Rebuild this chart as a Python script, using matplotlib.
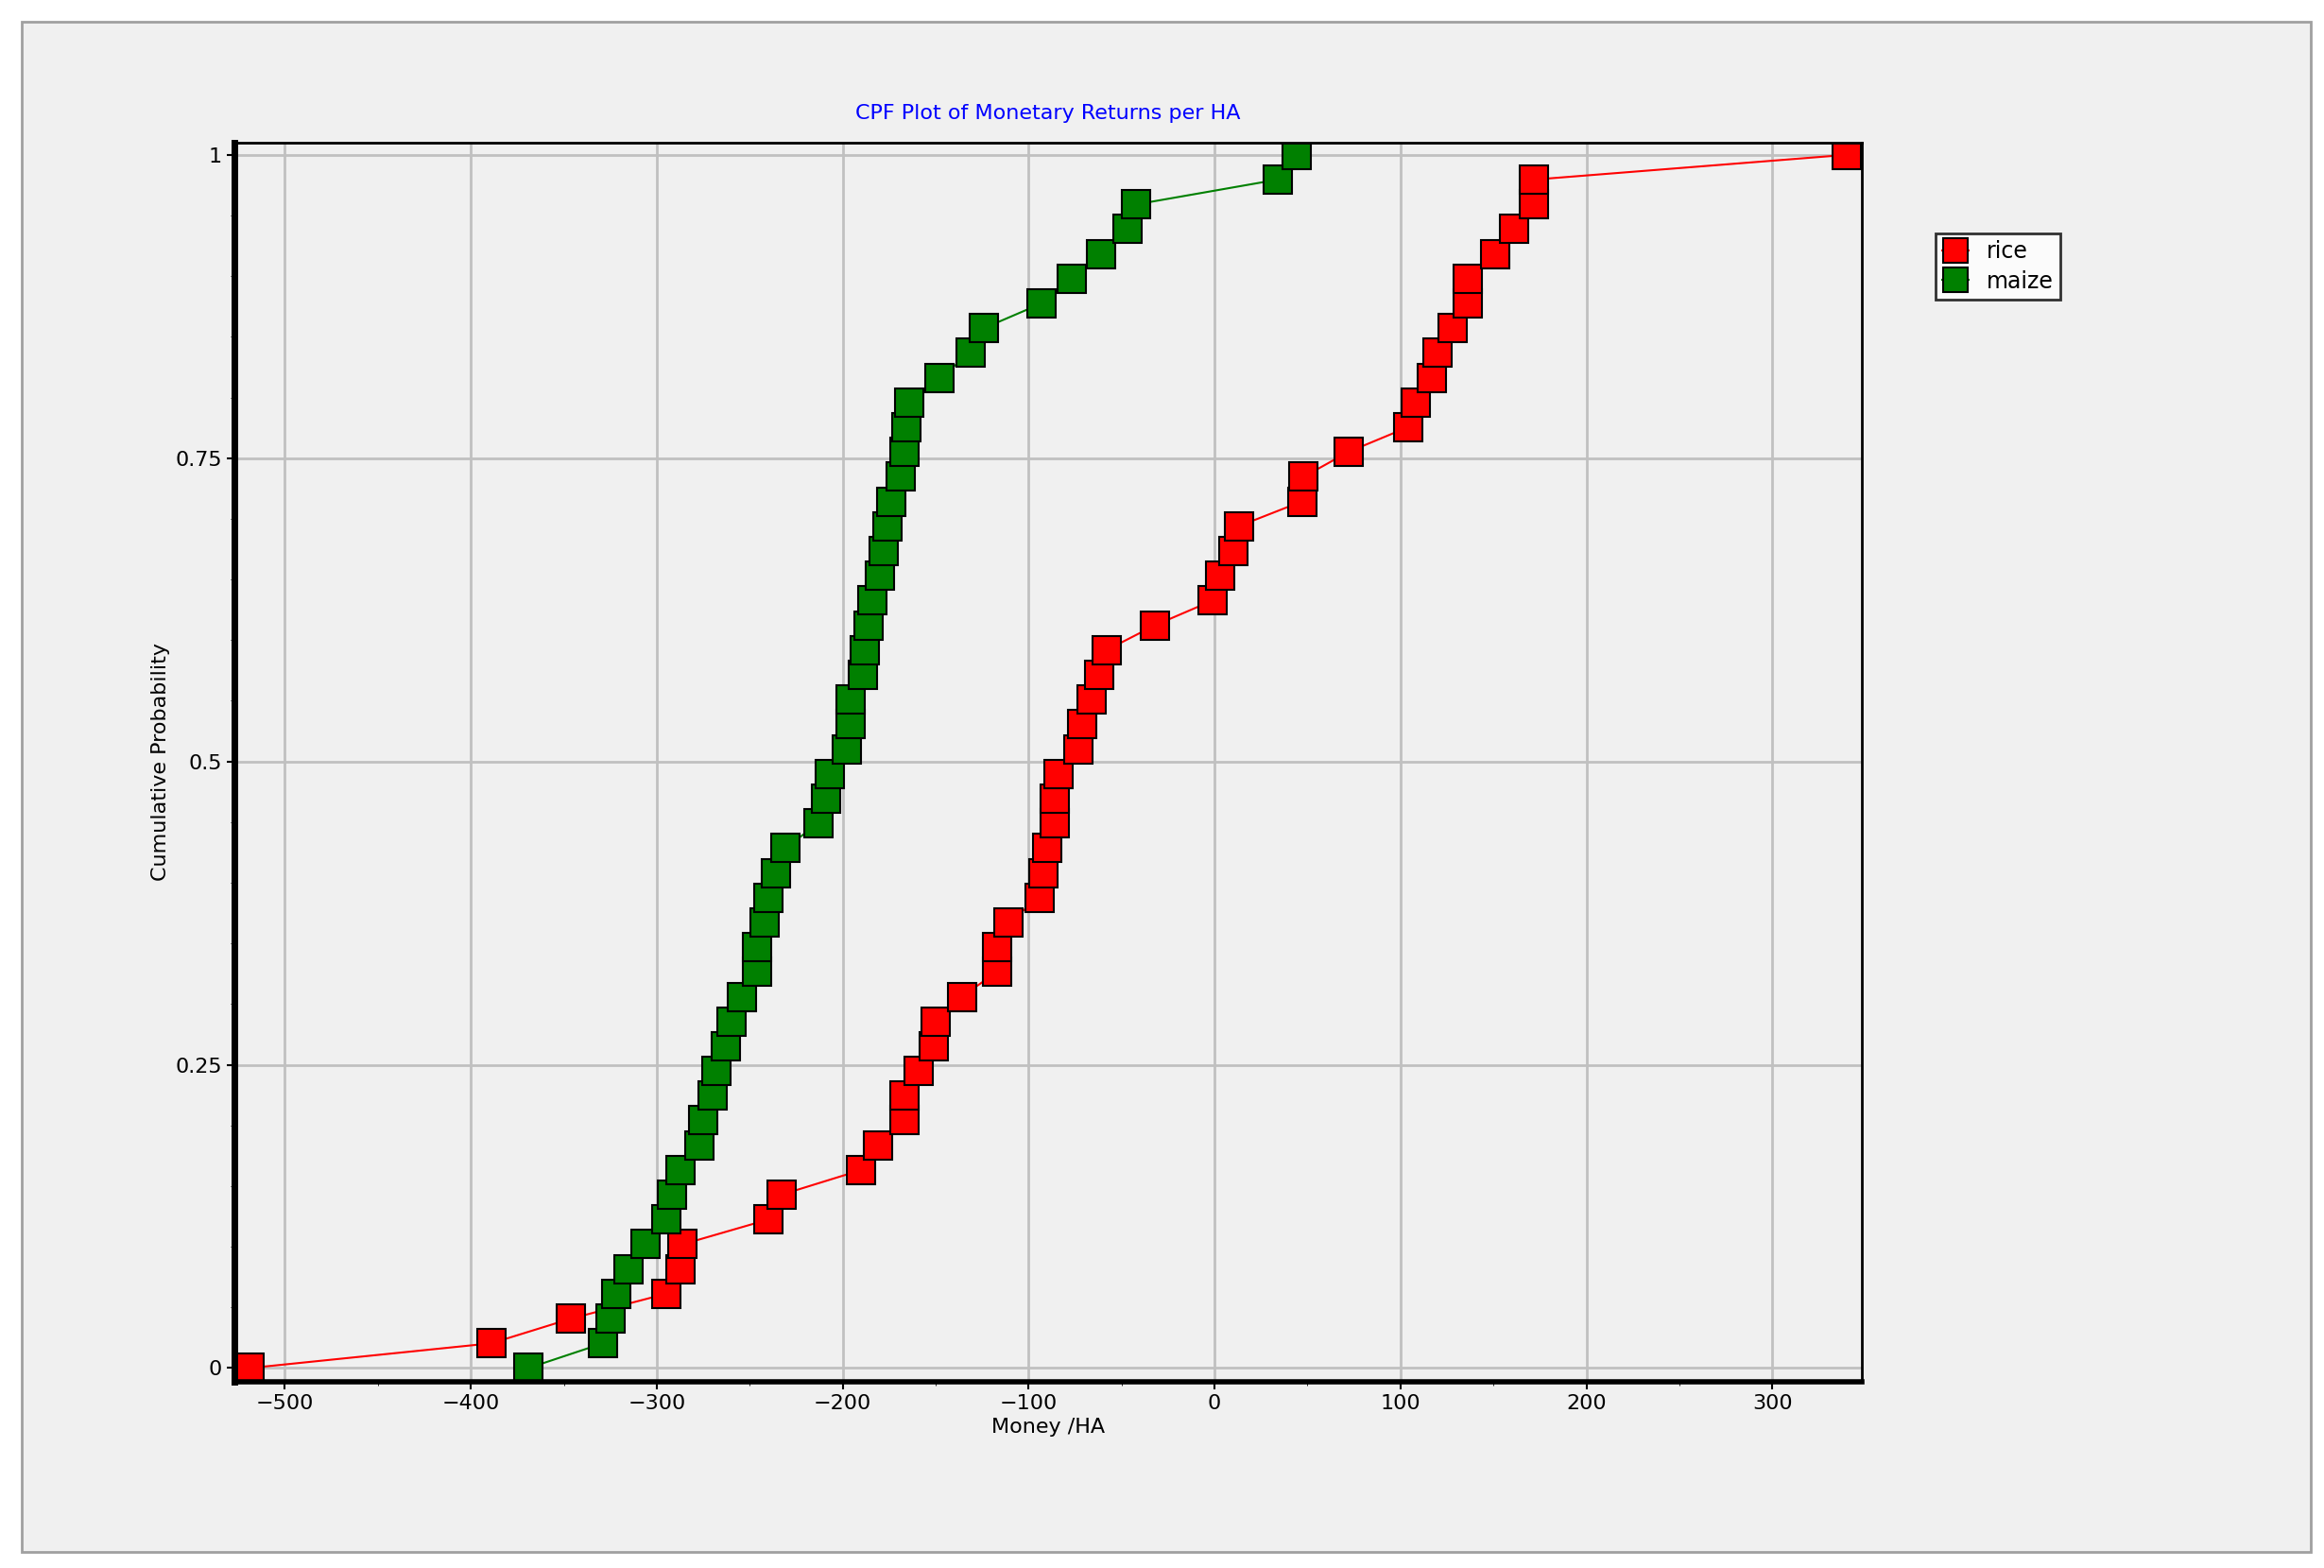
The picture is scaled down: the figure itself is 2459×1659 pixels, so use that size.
import numpy as np
import matplotlib
matplotlib.use("Agg")
import matplotlib.pyplot as plt
from matplotlib.patches import Rectangle

rice = [-519,-389,-346,-295,-287,-286,-240,-233,-190,-181,
        -167,-167,-159,-151,-150,-136,-117,-117,-111,-94,
        -92,-90,-86,-86,-84,-73,-71,-66,-62,-58,
        -32,-1,3,10,13,47,48,72,104,108,
        117,120,128,136,136,151,161,172,172,340]
maize = [-369,-329,-325,-322,-315,-306,-295,-292,-287,-277,
         -275,-270,-268,-263,-260,-254,-246,-246,-242,-240,
         -236,-231,-213,-209,-207,-198,-196,-196,-189,-188,
         -186,-184,-180,-178,-176,-174,-169,-167,-166,-164,
         -148,-131,-124,-93,-77,-61,-47,-42,34,44]
prob_r = np.arange(len(rice)) / (len(rice) - 1)
prob_m = np.arange(len(maize)) / (len(maize) - 1)
xticks = [-500, -400, -300, -200, -100, 0, 100, 200, 300]
yticks = [0, 0.25, 0.5, 0.75, 1]
ytick_labels = ["0", "0.25", "0.5", "0.75", "1"]

fig = plt.figure(figsize=(24.59, 16.59), dpi=100)
fig.patch.set_facecolor("white")
fig.patches.append(Rectangle((0.0095, 0.01), 0.985, 0.976, transform=fig.transFigure,
                             facecolor="#f0f0f0", edgecolor="#a0a0a0", lw=2, zorder=-1))
ax = fig.add_axes([0.101, 0.119, 0.700, 0.790])
ax.set_facecolor("#f0f0f0")
ax.plot(rice, prob_r, color="red", lw=1.5, marker="s", ms=21, mfc="red", mec="black",
        mew=1.5, label="rice")
ax.plot(maize, prob_m, color="green", lw=1.5, marker="s", ms=21, mfc="#008000", mec="black",
        mew=1.5, label="maize")
ax.set_xlim(-527, 348)
ax.set_ylim(-0.011, 1.01)
ax.set_xticks(xticks)
ax.set_yticks(yticks)
ax.set_yticklabels(ytick_labels)
ax.set_yticks(np.arange(0, 1.01, 0.05), minor=True)
ax.set_xticks(np.arange(-500, 301, 50), minor=True)
ax.grid(True, color="#c0c0c0", lw=2)
ax.set_axisbelow(True)
ax.tick_params(labelsize=16, length=6, width=1.5)
ax.tick_params(which="minor", length=3)
for s in ax.spines.values():
    s.set_linewidth(2)
ax.spines["left"].set_linewidth(5)
ax.spines["bottom"].set_linewidth(4)
ax.set_xlabel("Money /HA", fontsize=16)
ax.set_ylabel("Cumulative Probability", fontsize=16)
ax.set_title("CPF Plot of Monetary Returns per HA", color="#0000ff", fontsize=16, pad=18)
leg = fig.legend(loc="upper left", bbox_to_anchor=(0.828, 0.858), fontsize=17,
                 frameon=True, fancybox=False, edgecolor="black", markerscale=0.9,
                 handlelength=1.2, borderpad=0.3, labelspacing=0.3)
leg.get_frame().set_linewidth(2)
fig.savefig("out.png", dpi=100)
